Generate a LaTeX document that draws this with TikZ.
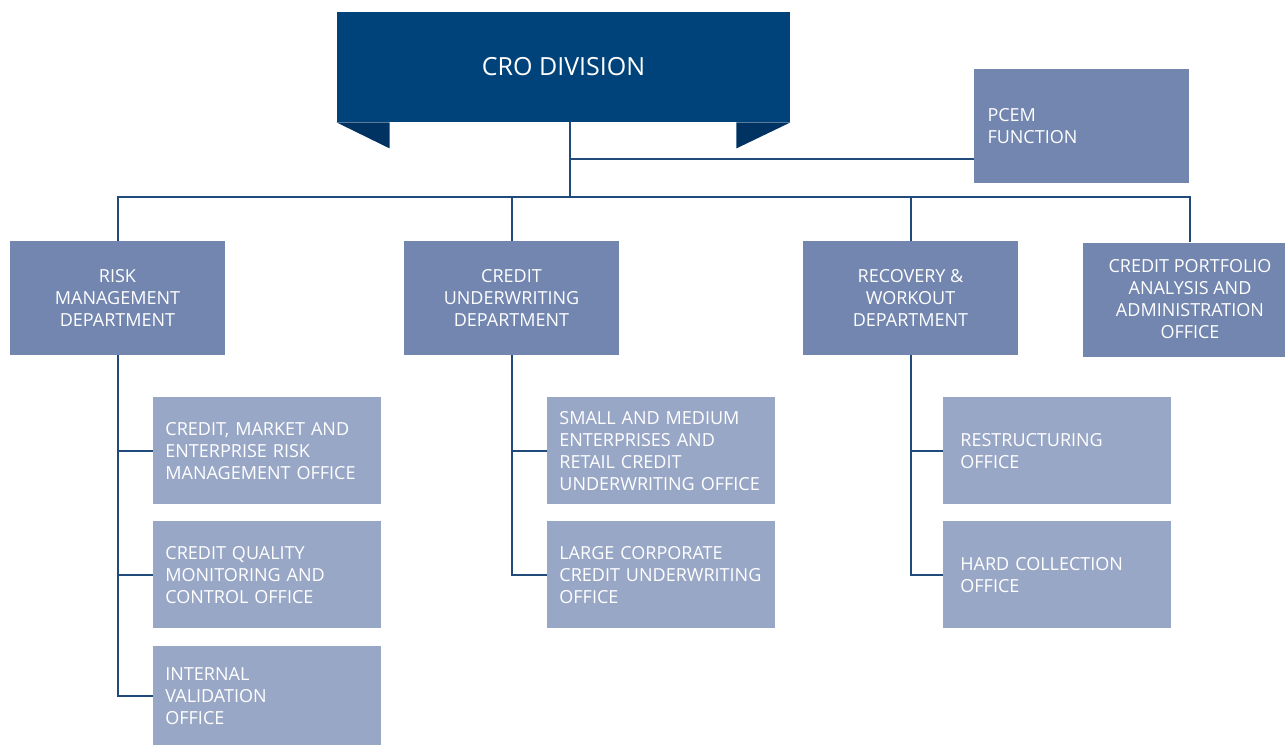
\documentclass[tikz,border=0pt]{standalone}
\usepackage{fontspec}
\setmainfont{Open Sans}
\usepackage{tikz}
\usetikzlibrary{positioning,calc}
\definecolor{crobanner}{RGB}{0,67,122}
\definecolor{crofold}{RGB}{0,50,98}
\definecolor{deptbox}{RGB}{114,134,176}
\definecolor{officebox}{RGB}{153,167,199}
\definecolor{connline}{RGB}{31,74,122}

\begin{document}
\begin{tikzpicture}[x=0.5pt, y=-0.5pt,
  conn/.style={draw=connline, line width=1pt},
  dept/.style={rectangle, fill=deptbox, text=white, inner sep=0pt,
    minimum width=107.5pt, minimum height=57pt, align=center,
    font=\fontsize{9}{11}\selectfont},
  office/.style={rectangle, fill=officebox, text=white, inner xsep=6pt, inner ysep=0pt,
    text width=102pt, minimum height=53.5pt, align=left, anchor=north west,
    font=\fontsize{9}{11}\selectfont}]
    \useasboundingbox (0,0) rectangle (1285,746);
    \node (cro) [rectangle, fill=crobanner, text=white, minimum width=226.5pt,
      minimum height=55pt, font=\fontsize{12.5}{15}\selectfont] at (563.5,67) {CRO DIVISION};
    \fill[crofold] (cro.south west) -- ++(53,0) -- ++(0,26) -- cycle;
    \fill[crofold] (cro.south east) -- ++(-54,0) -- ++(0,26) -- cycle;
    \node (pcem) [dept, align=left, text width=94pt, inner xsep=6.5pt] at (1081.5,126) {PCEM\\FUNCTION};
    \node (risk) [dept] at (117.5,298) {RISK\\MANAGEMENT\\DEPARTMENT};
    \node (cud) [dept] at (511.5,298) {CREDIT\\UNDERWRITING\\DEPARTMENT};
    \node (rwd) [dept] at (910.5,298) {RECOVERY \&\\WORKOUT\\DEPARTMENT};
    \node (cpao) [dept] at (1190,299.5) {CREDIT PORTFOLIO\\ANALYSIS AND\\ADMINISTRATION\\OFFICE};
    \node (cmero) [office] at (153,397) {CREDIT, MARKET AND\\ENTERPRISE RISK\\MANAGEMENT OFFICE};
    \node (cqmco) [office] at (153,521) {CREDIT QUALITY\\MONITORING AND\\CONTROL OFFICE};
    \node (ivo) [office, minimum height=49.5pt] at (153,646) {INTERNAL\\VALIDATION\\OFFICE};
    \node (smeo) [office] at (547,397) {SMALL AND MEDIUM\\ENTERPRISES AND\\RETAIL CREDIT\\UNDERWRITING OFFICE};
    \node (lcuo) [office] at (547,521) {LARGE CORPORATE\\CREDIT UNDERWRITING\\OFFICE};
    \node (rso) [office, inner xsep=8.5pt, text width=97pt] at (943,397) {RESTRUCTURING\\OFFICE};
    \node (hco) [office, inner xsep=8.5pt, text width=97pt] at (943,521) {HARD COLLECTION\\OFFICE};
    \coordinate (bus) at (570,197);
    \coordinate (pj) at (570,159);
    \draw[conn] (cro.south -| bus) -- (bus);
    \draw[conn] (pj) -- (pj -| pcem.west);
    \draw[conn] (risk.north) -- (risk.north |- bus) -- (cpao.north |- bus) -- (cpao.north);
    \draw[conn] (cud.north) -- (cud.north |- bus);
    \draw[conn] (rwd.north) -- (rwd.north |- bus);
    \draw[conn] (risk.south) |- (ivo.west);
    \draw[conn] (risk.south |- cmero.west) -- (cmero.west);
    \draw[conn] (risk.south |- cqmco.west) -- (cqmco.west);
    \draw[conn] (cud.south) |- (lcuo.west);
    \draw[conn] (cud.south |- smeo.west) -- (smeo.west);
    \draw[conn] (rwd.south) |- (hco.west);
    \draw[conn] (rwd.south |- rso.west) -- (rso.west);
\end{tikzpicture}
\end{document}
